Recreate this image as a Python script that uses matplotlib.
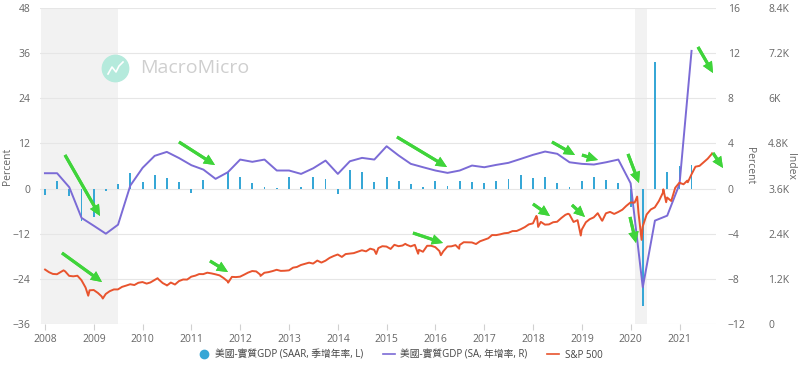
import numpy as np
import pandas as pd
import matplotlib
matplotlib.use('Agg')
import matplotlib.pyplot as plt
from matplotlib.lines import Line2D
from matplotlib.transforms import IdentityTransform

plt.rcParams['font.family'] = ['Open Sans', 'Noto Sans CJK TC', 'DejaVu Sans']

# quarterly real GDP, 2008Q1 .. 2021Q2
quarters = pd.date_range('2008-01-01', periods=54, freq='QS')
gdp_saar = [-1.6, 2.1, -2.1, -8.5,
            -7.6, -0.7, 1.2, 4.1,
            1.7, 3.5, 2.8, 1.7,
            -1.1, 2.3, -0.1, 4.3,
            3.0, 1.5, 0.4, 0.2,
            3.2, 0.3, 3.0, 2.6,
            -1.4, 5.0, 4.5, 1.7,
            3.0, 2.1, 1.1, 0.3,
            2.1, 0.8, 1.9, 1.7,
            1.6, 2.0, 2.6, 3.5,
            2.8, 3.2, 1.5, 0.5,
            2.0, 3.0, 2.4, 1.5,
            -5.0, -31.1, 33.6, 4.3,
            6.1, 6.3]
gdp_yoy = [1.36, 1.36, 0.12, -2.6,
           -3.3, -4.0, -3.2, 0.27,
           1.84, 2.9, 3.25, 2.7,
           2.07, 1.68, 0.86, 1.45,
           2.57, 2.37, 2.57, 1.6,
           1.6, 1.3, 1.8, 2.48,
           1.3, 2.42, 2.72, 2.57,
           3.75, 2.93, 2.19, 1.89,
           1.6, 1.39, 1.6, 2.04,
           1.89, 2.1, 2.28, 2.63,
           2.99, 3.28, 3.08, 2.33,
           2.19, 2.13, 2.33, 2.57,
           0.47, -8.75, -2.84, -2.4,
           0.4, 12.2]

# S&P 500 month-end closes
spx_monthly = [1378, 1331, 1323, 1386, 1400, 1280, 1267, 1283, 1166, 969, 896, 903,
               826, 735, 798, 873, 919, 919, 987, 1021, 1057, 1036, 1096, 1115,
               1074, 1104, 1169, 1187, 1089, 1031, 1102, 1049, 1141, 1183, 1181, 1258,
               1286, 1327, 1326, 1364, 1345, 1321, 1292, 1219, 1131, 1253, 1247, 1258,
               1312, 1366, 1408, 1398, 1310, 1362, 1379, 1407, 1441, 1412, 1416, 1426,
               1498, 1515, 1569, 1598, 1631, 1606, 1686, 1633, 1682, 1757, 1806, 1848,
               1783, 1859, 1872, 1884, 1924, 1960, 1931, 2003, 1972, 2018, 2068, 2059,
               1995, 2105, 2068, 2086, 2107, 2063, 2104, 1972, 1920, 2079, 2080, 2044,
               1940, 1932, 2060, 2065, 2097, 2099, 2174, 2171, 2168, 2126, 2199, 2239,
               2279, 2364, 2363, 2384, 2412, 2423, 2470, 2472, 2519, 2575, 2648, 2674,
               2824, 2714, 2641, 2648, 2705, 2718, 2816, 2902, 2914, 2712, 2760, 2507,
               2704, 2784, 2834, 2946, 2752, 2942, 2980, 2926, 2977, 3038, 3141, 3231,
               3226, 2954, 2585, 2912, 3044, 3100, 3271, 3500, 3363, 3270, 3622, 3756,
               3714, 3811, 3973, 4181, 4204, 4298, 4395, 4523]
spx_month_dates = pd.date_range('2008-01-31', periods=len(spx_monthly), freq='ME')
# intramonth highs / lows
spx_extra_dates = pd.to_datetime(['2008-01-02', '2008-05-19', '2008-11-20', '2009-03-09',
                                  '2010-04-23', '2010-07-02', '2011-04-29', '2011-10-03',
                                  '2012-06-01', '2014-10-15', '2015-05-21', '2015-08-25',
                                  '2016-02-11', '2016-06-27', '2018-01-26', '2018-02-08',
                                  '2018-09-20', '2018-12-24', '2019-06-03', '2020-02-19',
                                  '2020-03-23', '2020-09-02', '2020-09-23', '2021-03-04',
                                  '2021-09-02'])
spx_extra = [1447, 1426, 752, 677,
             1217, 1023, 1364, 1099,
             1278, 1862, 2131, 1868,
             1829, 2001, 2873, 2581,
             2931, 2351, 2744, 3386,
             2237, 3580, 3237, 3768,
             4537]
spx = pd.Series(spx_monthly + spx_extra,
                index=list(spx_month_dates) + list(spx_extra_dates)).sort_index()

recessions = [('2007-12-01', '2009-06-30'), ('2020-02-01', '2020-04-30')]
year_ticks = pd.date_range('2008-01-01', '2021-01-01', freq='YS')

c_bar = '#37a7d6'
c_yoy = '#7b6bd6'
c_spx = '#e8542e'
c_text = '#666666'
c_grid = '#e6e6e6'

fig = plt.figure(figsize=(8, 3.66), dpi=100)
ax1 = fig.add_axes([40 / 800, 1 - 324 / 366, 676 / 800, 316 / 366])
ax2 = ax1.twinx()
ax3 = ax1.twinx()

for a, b in recessions:
    ax1.axvspan(pd.Timestamp(a), pd.Timestamp(b), color='#f2f2f2', lw=0, zorder=0)

ax1.bar(quarters, gdp_saar, width=14, color=c_bar, zorder=2,
        label='美國-實質GDP (SAAR, 季增年率, L)')
ax2.plot(quarters, gdp_yoy, color=c_yoy, lw=1.4, label='美國-實質GDP (SA, 年增率, R)')
ax3.plot(spx.index, spx.values, color=c_spx, lw=1.4, label='S&P 500')

ax1.set_xlim(pd.Timestamp('2007-11-25'), pd.Timestamp('2021-10-01'))
ax1.set_ylim(-36, 48)
ax1.set_yticks(np.arange(-36, 49, 12))
ax2.set_ylim(-12, 16)
ax2.set_yticks(np.arange(-12, 17, 4))
ax3.set_ylim(0, 8400)
ax3.set_yticks(np.arange(0, 8401, 1200))
ax3.set_yticklabels(['0' if v == 0 else (f'{v / 1000:g}K') for v in np.arange(0, 8401, 1200)])

ax1.set_xticks(year_ticks)
ax1.set_xticklabels([str(d.year) for d in year_ticks])
ax1.grid(axis='y', color=c_grid, lw=0.8, zorder=0)
ax1.set_axisbelow(True)

for a in (ax1, ax2, ax3):
    for s in a.spines.values():
        s.set_visible(False)
# pads given in points (1 px = 0.72 pt at 100 dpi)
ax1.tick_params(axis='y', length=0, pad=7, labelsize=7.5, labelcolor=c_text)
ax1.tick_params(axis='x', length=4, color='#d0d0d0', pad=3, labelsize=7.5, labelcolor=c_text)
ax2.tick_params(axis='y', length=0, pad=8.5, labelsize=7.5, labelcolor=c_text)
ax3.spines['right'].set_position(('outward', 29))
ax3.tick_params(axis='y', length=0, pad=8.5, labelsize=7.5, labelcolor=c_text)

ax1.set_ylabel('Percent', fontsize=7.5, color=c_text)
ax1.yaxis.set_label_coords(-0.040, 0.5)
ax2.set_ylabel('Percent', fontsize=7.5, color=c_text, rotation=-90, va='center')
ax2.yaxis.set_label_coords(1.05, 0.5)
ax3.set_ylabel('Index', fontsize=7.5, color=c_text, rotation=-90, va='center')
ax3.yaxis.set_label_coords(1.11, 0.5)

# watermark
fig.add_artist(Line2D([115], [366 - 68], marker='o', markersize=19, color='#b5eadc',
                      transform=IdentityTransform()))
fig.add_artist(Line2D([108, 112, 116, 119, 123], [292, 299, 294, 300, 304], color='white',
                      lw=1.2, transform=IdentityTransform()))
fig.text(140 / 800, 1 - 68 / 366, 'MacroMicro', fontsize=14, color='#cfcfcf', va='center')

# green arrows (figure pixels, image y from top)
arrows = [((65, 155), (100, 216)), ((179, 142), (215, 165)), ((62, 253), (102, 282)),
          ((210, 261), (228, 272)), ((397, 137), (447, 167)), ((413, 233), (443, 243)),
          ((533, 204), (550, 216)), ((572, 205), (585, 217)), ((552, 142), (575, 155)),
          ((582, 155), (598, 160)), ((628, 154), (639, 183)), ((630, 217), (636, 243)),
          ((698, 47), (713, 73)), ((713, 153), (723, 168))]
for (tx, ty), (hx, hy) in arrows:
    fig.add_artist(plt.annotate('', xy=(hx, 366 - hy), xytext=(tx, 366 - ty),
                                xycoords='figure pixels', textcoords='figure pixels',
                                arrowprops=dict(facecolor='#3fd43a', edgecolor='none',
                                                width=2.2, headwidth=7.5, headlength=8)))

handles = [Line2D([], [], marker='o', ls='none', color=c_bar, markersize=6),
           Line2D([], [], color=c_yoy, lw=1.2),
           Line2D([], [], color=c_spx, lw=1.2)]
labels = ['美國-實質GDP (SAAR, 季增年率, L)', '美國-實質GDP (SA, 年增率, R)', 'S&P 500']
fig.legend(handles, labels, loc='center', bbox_to_anchor=(0.5, 1 - 355 / 366), ncol=3,
           frameon=False, fontsize=7, labelcolor='#444444', handlelength=1.2,
           handletextpad=0.6, columnspacing=2.0)

fig.savefig('out.png', dpi=100)
